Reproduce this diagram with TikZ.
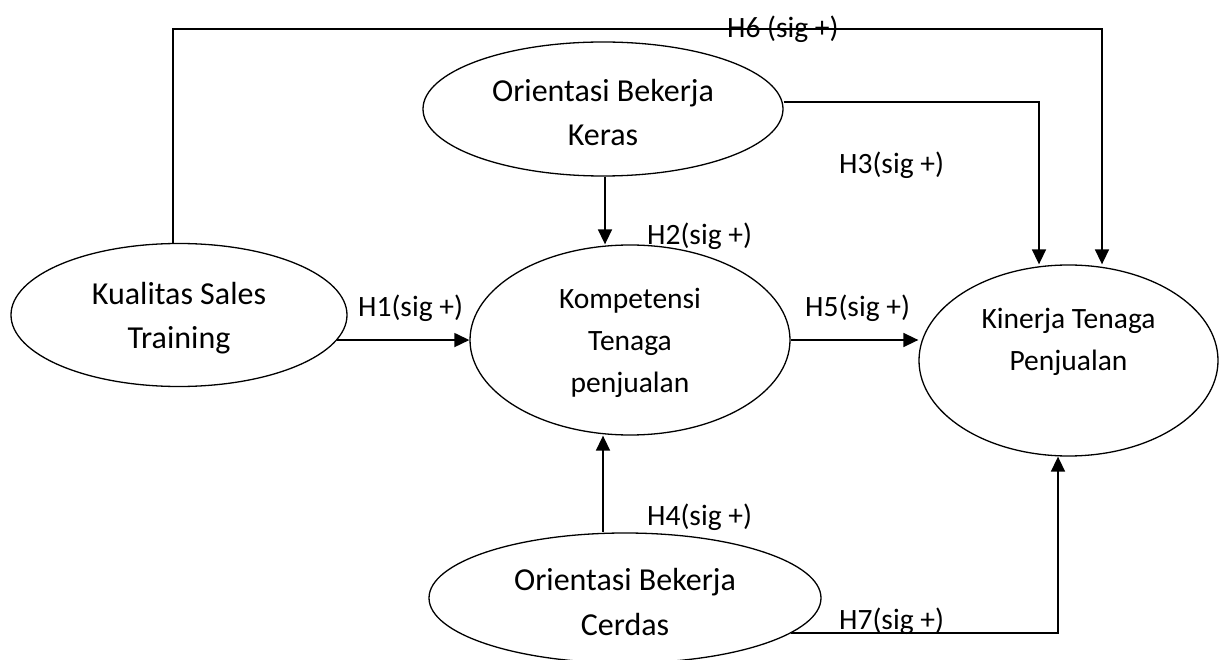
\documentclass[tikz,border=0pt]{standalone}
\usepackage{fontspec}
\setmainfont{Carlito}
\usetikzlibrary{shapes.geometric,arrows.meta}
\begin{document}
\begin{tikzpicture}[x=1pt,y=-1pt,
  ell/.style={draw, ellipse, line width=1.3pt, inner sep=0pt},
  bigtxt/.style={align=center, inner sep=0pt, font=\fontsize{32}{44}\selectfont},
  smalltxt/.style={align=center, inner sep=0pt, font=\fontsize{29.5}{42}\selectfont},
  lbl/.style={anchor=base west, inner sep=0pt, font=\fontsize{29.5}{36}\selectfont},
  conn/.style={line width=1.6pt},
  arr/.style={conn, -{Triangle[length=15pt,width=14pt]}}]
\useasboundingbox (0,0) rectangle (1219,660);

% ellipses
\node[ell, minimum width=336pt, minimum height=143pt] (kual) at (179,315) {};
\node[ell, minimum width=360pt, minimum height=134pt] (keras) at (603,109) {};
\node[ell, minimum width=320pt, minimum height=190pt] (komp) at (630,340) {};
\node[ell, minimum width=299pt, minimum height=191pt] (kin) at (1068.5,360.5) {};
\node[ell, minimum width=392pt, minimum height=130pt] (cerd) at (625,598) {};

% ellipse texts
\node[bigtxt] (kualtxt) at (179,318.5) {Kualitas Sales\\Training};
\node[bigtxt] (kerastxt) at (603,112.5) {Orientasi Bekerja\\Keras};
\node[smalltxt] (komptxt) at (630,342.5) {Kompetensi\\Tenaga\\penjualan};
\node[smalltxt] (kintxt) at (1068.5,342) {Kinerja Tenaga\\Penjualan};
\node[bigtxt, font=\fontsize{32}{45}\selectfont] (cerdtxt) at (625,602.5) {Orientasi Bekerja\\Cerdas};

% routing coordinates
\coordinate (c6a) at (173,29);
\coordinate (c6b) at (1102,29);
\coordinate (c3) at (1039,102);
\coordinate (c2) at (605,200);
\coordinate (c4) at (603,480);
\coordinate (c7) at (1058,634);

% connectors
\draw[arr] (kual.north -| c6a) -- (c6a) -- (c6b) -- (kin.north -| c6b);
\draw[arr] (keras.east |- c3) -- (c3) -- (kin.north -| c3);
\draw[arr] (keras.south -| c2) -- (komp.north -| c2);
\draw[arr] (kual.-9.4) -- (kual.-9.4 -| komp.west);
\draw[arr] (komp.east) -- (kin.west |- komp.east);
\draw[arr] (cerd.north -| c4) -- (komp.south -| c4);
\draw[arr] (cerd.-12.5) -- (cerd.-12.5 -| c7) -- (kin.south -| c7);

% labels
\node[lbl] (h6) at (727,38) {H6 (sig +)};
\node[lbl] (h3) at (839,174) {H3(sig +)};
\node[lbl] (h2) at (647,245) {H2(sig +)};
\node[lbl] (h1) at (358,317) {H1(sig +)};
\node[lbl] (h5) at (805,317) {H5(sig +)};
\node[lbl] (h4) at (647,525) {H4(sig +)};
\node[lbl] (h7) at (839,629) {H7(sig +)};
\end{tikzpicture}
\end{document}
